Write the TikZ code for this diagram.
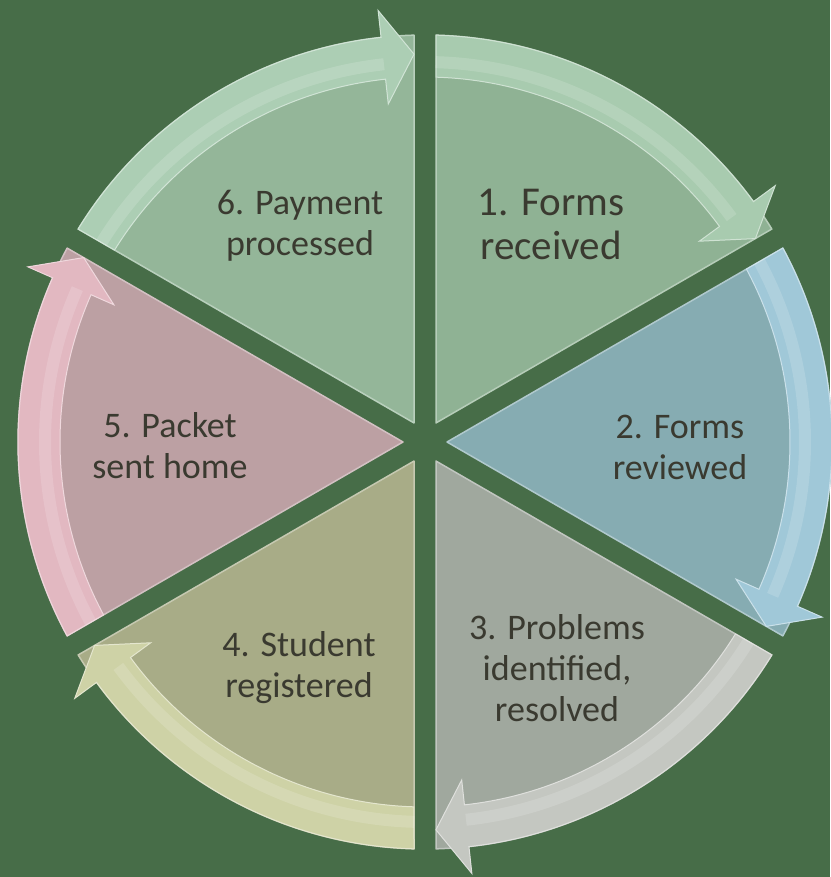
\documentclass[tikz,border=0pt]{standalone}
\usepackage{fontspec}
\setmainfont{Carlito}

\definecolor{bg}{RGB}{71,109,72}
\definecolor{inktext}{RGB}{58,58,48}
\definecolor{fillA}{RGB}{143,178,148}
\definecolor{bandA}{RGB}{168,203,175}
\definecolor{fillB}{RGB}{134,172,178}
\definecolor{bandB}{RGB}{160,200,216}
\definecolor{fillC}{RGB}{160,168,158}
\definecolor{bandC}{RGB}{196,199,193}
\definecolor{fillD}{RGB}{168,172,135}
\definecolor{bandD}{RGB}{206,210,166}
\definecolor{fillE}{RGB}{188,160,163}
\definecolor{bandE}{RGB}{226,184,193}
\definecolor{fillF}{RGB}{148,182,153}
\definecolor{bandF}{RGB}{172,206,180}

\begin{document}
\begin{tikzpicture}[
        x = 1pt, y = 1pt,
        wedge/.style = {fill = #1, draw = white!35!#1, line width = 1.5pt, line join = round},
        band/.style = {fill = #1, draw = white!45!#1, line width = 1pt, line join = miter},
        shine/.style = {draw = white, opacity = 0.15, line width = 12pt},
        steplabel/.style = {font = \fontsize{36}{41}\selectfont, text = inktext, align = center}
    ]

    \fill[bg] (-425,-435) rectangle (405,442);
    \useasboundingbox (-425,-435) rectangle (405,442);

    \foreach \b/\f/\c in {30/fillA/bandA, -30/fillB/bandB, -90/fillC/bandC,
            -150/fillD/bandD, 150/fillE/bandE, 90/fillF/bandF} {
        \pgfmathsetmacro\a{\b+60}
        \pgfmathsetmacro\m{\b+30}
        \pgfmathsetmacro\e{\b+6.2}
        % wedge body
        \draw[wedge=\f] (\m:22) -- ({\a-1.55}:407)
            arc[start angle={\a-1.55}, end angle={\b+1.55}, radius=407pt] -- cycle;
        % curved arrow along the rim
        \draw[band=\c] ({\a-1.55}:407)
            arc[start angle={\a-1.55}, end angle=\e, radius=407pt]
            -- (\e:434) -- ({\b+1.62}:388) -- (\e:340) -- (\e:365)
            arc[start angle=\e, end angle={\a-1.73}, radius=365pt] -- cycle;
        \draw[shine] ({\a-1.6}:380)
            arc[start angle={\a-1.6}, end angle=\e, radius=380pt];
    }

    \node[steplabel, font = \fontsize{41}{44}\selectfont] (s1) at (126,218) {1. Forms\\received};
    \node[steplabel] (s2) at (255,-5) {2. Forms\\reviewed};
    \node[steplabel] (s3) at (132,-226) {3. Problems\\identified,\\resolved};
    \node[steplabel] (s4) at (-126,-226) {4. Student\\registered};
    \node[steplabel] (s5) at (-255,-4) {5. Packet\\sent home};
    \node[steplabel] (s6) at (-125,216) {6. Payment\\processed};

\end{tikzpicture}
\end{document}
